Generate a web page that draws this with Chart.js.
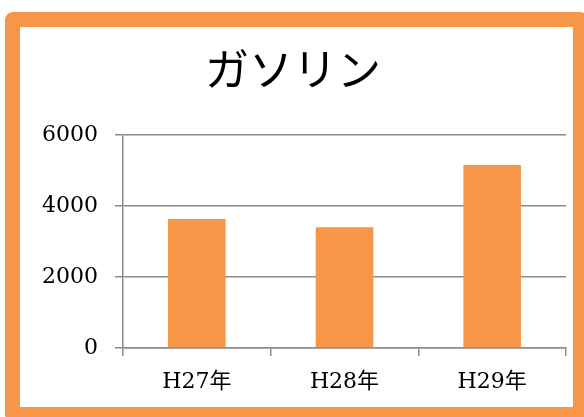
<!DOCTYPE html>
<html>
<head>
<meta charset="utf-8">
<script src="https://cdn.jsdelivr.net/npm/chart.js@4"></script>
<style>
  html, body { margin: 0; padding: 0; background: #fff; overflow: hidden; }
  .frame {
    position: absolute;
    left: 5px;
    top: 12px;
    width: 553px;
    height: 380px;
    border: 15px solid #f79646;
    border-radius: 8px;
    background: #fff;
  }
  canvas { display: block; }
</style>
</head>
<body>
<div class="frame">
  <canvas id="chart" width="553" height="380"></canvas>
</div>
<script>
const title = "ガソリン"
const categories = ["H27年", "H28年", "H29年"]
const values = [3630, 3400, 5150]
const yTicks = [0, 2000, 4000, 6000]

const serif = "'DejaVu Serif', 'Noto Sans CJK JP', serif"
const gridColor = "#8c8c8c"

const ctx = document.getElementById("chart").getContext("2d")

new Chart(ctx, {
  type: "bar",
  data: {
    labels: categories,
    datasets: [
      {
        label: title,
        data: values,
        backgroundColor: "#f79646",
        borderWidth: 0,
        barPercentage: 0.39,
        categoryPercentage: 1,
      },
    ],
  },
  options: {
    responsive: false,
    animation: false,
    layout: {
      padding: { left: 0, right: 7, top: 0, bottom: 0 },
    },
    plugins: {
      legend: { display: false },
      tooltip: { enabled: false },
      title: {
        display: true,
        text: title,
        color: "#000",
        font: { family: "'Noto Sans CJK JP', serif", size: 44, weight: "normal", lineHeight: 1.2 },
        padding: { top: 16, bottom: 39 },
      },
    },
    scales: {
      x: {
        offset: true,
        grid: {
          offset: true,
          drawOnChartArea: false,
          drawTicks: true,
          tickLength: 8,
          color: gridColor,
          lineWidth: 1.5,
        },
        border: { color: gridColor, width: 1.5 },
        ticks: {
          color: "#000",
          padding: 13,
          font: { family: serif, size: 22, lineHeight: 1.2 },
          maxRotation: 0,
        },
        afterFit: (scale) => { scale.height = 59 },
      },
      y: {
        min: 0,
        max: 6000,
        afterBuildTicks: (scale) => {
          scale.ticks = yTicks.map((v) => ({ value: v }))
        },
        grid: {
          color: gridColor,
          lineWidth: 1.5,
          tickLength: 8,
        },
        border: { color: gridColor, width: 1.5 },
        ticks: {
          color: "#000",
          padding: 17,
          font: { family: serif, size: 22 },
          callback: (v) => String(v),
        },
        afterFit: (scale) => { scale.width = 103 },
      },
    },
  },
})
</script>
</body>
</html>
